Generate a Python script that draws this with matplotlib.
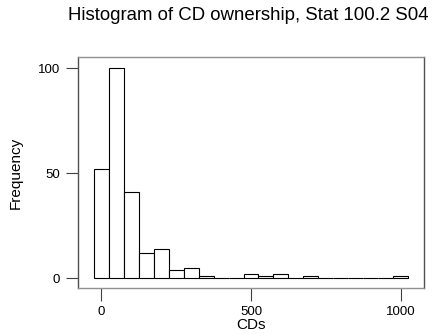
import numpy as np
import matplotlib
matplotlib.use("Agg")
import matplotlib.pyplot as plt

plt.rcParams['font.family'] = ['Liberation Sans', 'DejaVu Sans']

# histogram bins (width 50, centred on multiples of 50) and their counts
bin_edges = np.arange(-25, 1026, 50)
counts = [52, 100, 41, 12, 14, 4, 5, 1, 0, 0, 2, 1, 2, 0, 1, 0, 0, 0, 0, 0, 1]
x_ticks = [0, 500, 1000]
y_ticks = [0, 50, 100]

fig = plt.figure(figsize=(4.34, 3.34), dpi=100)
ax = fig.add_axes([78 / 434, 46 / 334, 346 / 434, 231 / 334])

ax.bar(bin_edges[:-1], counts, width=np.diff(bin_edges), align='edge',
       facecolor='white', edgecolor='black', linewidth=0.8)

ax.set_xlim(-77, 1077)
ax.set_ylim(-4.6, 105.4)
ax.set_xticks(x_ticks)
ax.set_yticks(y_ticks)
ax.tick_params(length=9, width=0.8, color='#404040', labelsize=9.5, pad=4)
for s in ax.spines.values():
    s.set_color('#909090')
    s.set_linewidth(1.0)
ax.spines['right'].set_color('#505050')
ax.spines['left'].set_color('#505050')

ax.set_xlabel('CDs', fontsize=11, labelpad=0)
ax.set_ylabel('Frequency', fontsize=11, labelpad=11)
fig.text(0.573, 0.955, 'Histogram of CD ownership, Stat 100.2 S04',
         ha='center', va='center', fontsize=13.4)

fig.savefig('out.png', dpi=100)
